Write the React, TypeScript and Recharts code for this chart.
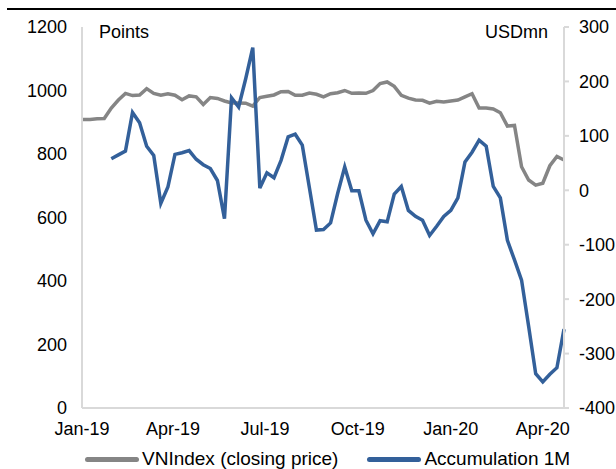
import React from 'react';
import { LineChart, Line, XAxis, YAxis, Legend } from 'recharts';

// weekly observations, Jan 2019 - Apr 2020
const weeks = [
  '2019-01-02', '2019-01-09', '2019-01-16', '2019-01-23', '2019-01-30',
  '2019-02-06', '2019-02-13', '2019-02-20', '2019-02-27',
  '2019-03-06', '2019-03-13', '2019-03-20', '2019-03-27',
  '2019-04-03', '2019-04-10', '2019-04-17', '2019-04-24',
  '2019-05-01', '2019-05-08', '2019-05-15', '2019-05-22', '2019-05-29',
  '2019-06-05', '2019-06-12', '2019-06-19', '2019-06-26',
  '2019-07-03', '2019-07-10', '2019-07-17', '2019-07-24', '2019-07-31',
  '2019-08-07', '2019-08-14', '2019-08-21', '2019-08-28',
  '2019-09-04', '2019-09-11', '2019-09-18', '2019-09-25',
  '2019-10-02', '2019-10-09', '2019-10-16', '2019-10-23', '2019-10-30',
  '2019-11-06', '2019-11-13', '2019-11-20', '2019-11-27',
  '2019-12-04', '2019-12-11', '2019-12-18', '2019-12-25',
  '2020-01-01', '2020-01-08', '2020-01-15', '2020-01-22', '2020-01-29',
  '2020-02-05', '2020-02-12', '2020-02-19', '2020-02-26',
  '2020-03-04', '2020-03-11', '2020-03-18', '2020-03-25',
  '2020-04-01', '2020-04-08', '2020-04-15', '2020-04-22',
];

// VNIndex closing price (points, left axis)
const vnIndex = [
  909, 909, 911, 912, 945, 970, 991, 984, 986, 1006,
  991, 985, 990, 985, 971, 983, 980, 956, 978, 975,
  967, 961, 961, 960, 951, 978, 982, 986, 996, 997,
  985, 985, 992, 988, 980, 990, 993, 1000, 991, 992,
  991, 1000, 1022, 1027, 1013, 985, 976, 970, 969, 960,
  966, 964, 967, 970, 980, 990, 945, 945, 942, 930,
  888, 890, 760, 718, 702, 708, 763, 792, 781,
];

// foreign net flow accumulated over 1 month (USDmn, right axis)
const accumulation = [
  null, null, null, null, 58, 65, 72, 143, 124, 81,
  64, -24, 6, 66, 69, 73, 57, 47, 40, 18,
  -52, 170, 153, 205, 262, 4, 32, 23, 55, 98,
  103, 83, 5, -73, -72, -60, -6, 43, -1, -1,
  -55, -80, -56, -58, -7, 7, -37, -48, -55, -83,
  -66, -48, -37, -14, 52, 70, 92, 81, 7, -14,
  -92, -128, -165, -250, -337, -352, -338, -326, -255,
];

const tickDates = ['2019-01-01', '2019-04-01', '2019-07-01', '2019-10-01', '2020-01-01', '2020-04-01'];
const tickLabels = ['Jan-19', 'Apr-19', 'Jul-19', 'Oct-19', 'Jan-20', 'Apr-20'];
const leftTicks = [0, 200, 400, 600, 800, 1000, 1200];
const rightTicks = [-400, -300, -200, -100, 0, 100, 200, 300];

const seriesNames = ['VNIndex (closing price)', 'Accumulation 1M'];
const GRAY = '#858585';
const BLUE = '#33609A';
const FONT = '"Liberation Sans", Arial, sans-serif';

const toDay = (s: string) => {
  const [y, m, d] = s.split('-').map(Number);
  return Date.UTC(y, m - 1, d) / 86400000;
};

const chartData = weeks.map((w, i) => ({
  t: toDay(w),
  vn: vnIndex[i],
  acc: accumulation[i],
}));

const xTicks = tickDates.map(toDay);
const xDomain = [toDay('2019-01-01'), toDay(weeks[weeks.length - 1])];

const renderLegend = () => (
  <div
    style={{
      display: 'flex',
      alignItems: 'center',
      height: 22,
      lineHeight: '22px',
      fontSize: 19,
      fontFamily: FONT,
      color: '#000',
      paddingLeft: 85,
      whiteSpace: 'nowrap',
    }}
  >
    {[GRAY, BLUE].map((c, i) => (
      <div key={i} style={{ display: 'flex', alignItems: 'center', marginRight: 29 }}>
        <span
          style={{
            display: 'inline-block',
            width: 54,
            height: 5,
            borderRadius: 3,
            background: c,
            marginRight: 3,
          }}
        />
        <span>{seriesNames[i]}</span>
      </div>
    ))}
  </div>
);

export default function App() {
  const tick = { fill: '#000', fontSize: 18, fontFamily: FONT };
  return (
    <div style={{ position: 'absolute', left: 0, top: 0, width: 616, height: 469, background: '#fff', overflow: 'hidden' }}>
      <div style={{ position: 'absolute', left: 7, top: 8, width: 609, height: 2, background: '#000' }} />
      <LineChart
        width={616}
        height={469}
        data={chartData}
        margin={{ top: 27, right: 0, bottom: 31, left: 22 }}
        style={{ fontFamily: FONT }}
      >
        <XAxis
          dataKey="t"
          type="number"
          domain={xDomain}
          ticks={xTicks}
          interval={0}
          tickFormatter={(v: number) => tickLabels[xTicks.indexOf(v)] ?? ''}
          height={30}
          tickLine={false}
          tickSize={6}
          tickMargin={8}
          axisLine={{ stroke: '#d9d9d9', strokeWidth: 2 }}
          tick={tick}
        />
        <YAxis
          yAxisId="left"
          domain={[0, 1200]}
          ticks={leftTicks}
          interval={0}
          width={60}
          tickLine={false}
          tickSize={6}
          tickMargin={9}
          axisLine={{ stroke: '#d9d9d9', strokeWidth: 2 }}
          tick={tick}
        />
        <YAxis
          yAxisId="right"
          orientation="right"
          domain={[-400, 300]}
          ticks={rightTicks}
          interval={0}
          width={52}
          tickLine={{ stroke: '#d9d9d9', strokeWidth: 2 }}
          tickSize={5}
          tickMargin={10}
          axisLine={{ stroke: '#d9d9d9', strokeWidth: 2 }}
          tick={tick}
        />
        <text x={99} y={38} fontSize={18} fontFamily={FONT} fill="#000">Points</text>
        <text x={548} y={38} fontSize={18} fontFamily={FONT} fill="#000" textAnchor="end">USDmn</text>
        <Line
          yAxisId="left"
          dataKey="vn"
          name={seriesNames[0]}
          type="linear"
          stroke={GRAY}
          strokeWidth={3.5}
          dot={false}
          isAnimationActive={false}
        />
        <Line
          yAxisId="right"
          dataKey="acc"
          name={seriesNames[1]}
          type="linear"
          stroke={BLUE}
          strokeWidth={3.5}
          dot={false}
          connectNulls={false}
          isAnimationActive={false}
        />
        <Legend
          layout="horizontal"
          verticalAlign="middle"
          align="center"
          content={renderLegend}
          wrapperStyle={{ position: 'absolute', left: 0, top: 448, width: 616, height: 22 }}
        />
      </LineChart>
    </div>
  );
}
